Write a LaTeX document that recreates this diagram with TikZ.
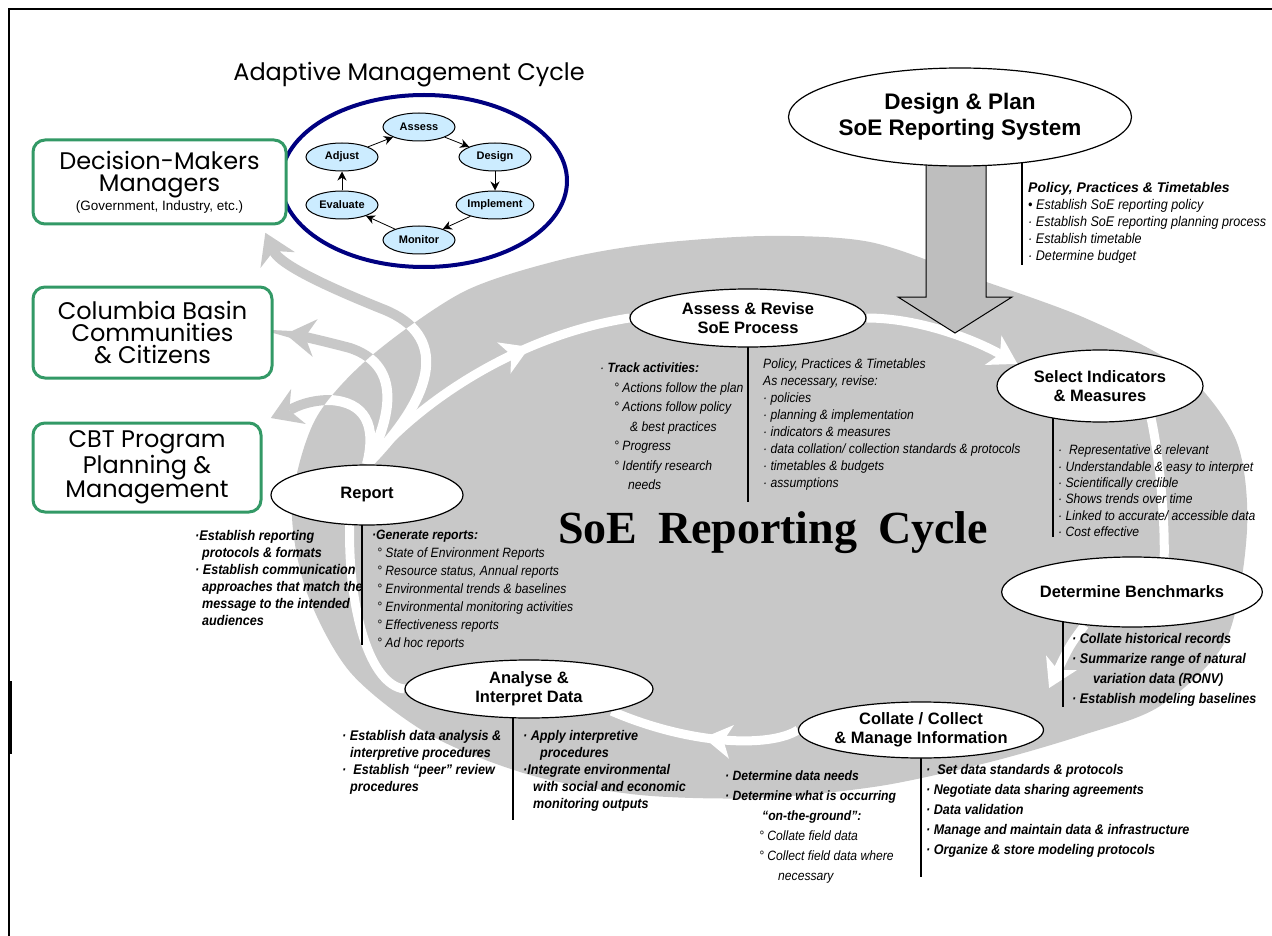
\documentclass[tikz,border=0pt]{standalone}
\usepackage{fontspec}
\setmainfont{Liberation Sans}
\newfontfamily\boxfont{Poppins}
\newfontfamily\narrowfont[FakeStretch=0.9]{Liberation Sans}
\newfontfamily\cyclefont{Liberation Serif}
\usetikzlibrary{arrows.meta,shapes.geometric,decorations.markings,backgrounds}

\definecolor{ringgray}{RGB}{200,200,200}
\definecolor{arrowgray}{RGB}{190,190,190}
\definecolor{amnavy}{RGB}{0,0,128}
\definecolor{boxgreen}{RGB}{51,153,102}
\definecolor{amblue}{RGB}{204,236,255}

\tikzset{stage/.style = {ellipse, draw, line width=1.2pt, fill=white, inner sep=0pt,
                         align=center, font=\bfseries\fontsize{16.5}{19}\selectfont},
         amstep/.style = {ellipse, draw, line width=1pt, fill=amblue, inner sep=0pt,
                          minimum width=72pt, minimum height=28pt,
                          font=\bfseries\fontsize{11}{13}\selectfont},
         amarrow/.style = {-{Stealth[length=9pt,width=9pt]}, line width=0.8pt},
         audience/.style = {draw=boxgreen, line width=3pt, rounded corners=12pt, fill=white,
                            inner sep=0pt, align=center, font=\boxfont\fontsize{24}{22}\selectfont},
         note/.style = {inner sep=0pt, anchor=north west, align=left,
                        font=\narrowfont\itshape\fontsize{13.5}{#1}\selectfont},
         note/.default = 17,
         boldnote/.style = {note=#1, font=\narrowfont\bfseries\itshape\fontsize{14}{#1}\selectfont},
         boldnote/.default = 17,
         rule/.style = {line width=1.4pt},
         cycleline/.style = {draw=white, line width=9pt},
         cyclehead/.style = {cycleline, postaction={decorate},
                             decoration={markings, mark=at position #1 with
                               {\arrow{Stealth[length=28pt,width=34pt,inset=8pt,line width=0pt]}}}},
         grayarr/.style = {draw=ringgray, line width=10pt,
                           -{Stealth[length=30pt,width=38pt,inset=10pt,line width=0pt]}}
        }

\begin{document}
\begin{tikzpicture}[x=1pt, y=-1pt]
  \useasboundingbox (0,0) rectangle (1272,936);

  % adaptive management cycle
  \node[font=\boxfont\fontsize{24}{24}\selectfont] (amtitle) at (409,75) {Adaptive Management Cycle};
  \node[draw=amnavy, line width=4pt, ellipse, minimum width=286pt, minimum height=172pt] (amring) at (424,181) {};
  \node[amstep] (amassess) at (419,127) {Assess};
  \node[amstep] (amdesign) at (495,157) {Design};
  \node[amstep] (amimplement) at (495,205) {Implement};
  \node[amstep] (ammonitor) at (419,240) {Monitor};
  \node[amstep] (amevaluate) at (342,205) {Evaluate};
  \node[amstep] (amadjust) at (342,157) {Adjust};
  \draw[amarrow] (amassess) -- (amdesign);
  \draw[amarrow] (amdesign) -- (amimplement);
  \draw[amarrow] (amimplement) -- (ammonitor);
  \draw[amarrow] (ammonitor) -- (amevaluate);
  \draw[amarrow] (amevaluate) -- (amadjust);
  \draw[amarrow] (amadjust) -- (amassess);

  % audiences
  \node[audience, minimum width=253pt, minimum height=84pt] (dm) at (159.5,182)
    {Decision-Makers\\Managers\\[-3pt]{\normalfont\fontsize{13.5}{15}\selectfont (Government, Industry, etc.)}};
  \node[audience, minimum width=239pt, minimum height=91pt] (cb) at (152.5,332.5)
    {Columbia Basin\\Communities\\\& Citizens};
  \node[audience, minimum width=228pt, minimum height=89pt] (cbt) at (147,467.5)
    {CBT Program\\Planning \&\\Management};

  % SoE stages
  \node[stage, minimum width=310pt, minimum height=98pt, font=\bfseries\fontsize{22.5}{26}\selectfont]
    (design) at (960,117) {Design \& Plan\\SoE Reporting System};
  \node[stage, minimum width=236pt, minimum height=58pt] (assess) at (748,318) {Assess \& Revise\\SoE Process};
  \node[stage, minimum width=206pt, minimum height=72pt] (select) at (1100,386) {Select Indicators\\\& Measures};
  \node[stage, minimum width=230pt, minimum height=70pt] (bench) at (1132,592) {Determine Benchmarks};
  \node[stage, minimum width=236pt, minimum height=56pt] (collate) at (921,730) {Collate / Collect\\\& Manage Information};
  \node[stage, minimum width=248pt, minimum height=58pt] (analyse) at (529,689) {Analyse \&\\Interpret Data};
  \node[stage, minimum width=192pt, minimum height=60pt] (report) at (367,495) {Report};

  \node[font=\cyclefont\bfseries\fontsize{46}{50}\selectfont] (cycletitle) at (773,533)
    {SoE\hspace{0.45em}Reporting\hspace{0.45em}Cycle};

  % notes
  \node[note=17, font=\narrowfont\itshape\fontsize{14}{17}\selectfont] (designnote) at (1028,182)
    {{\normalfont\bfseries\itshape\fontsize{14}{17}\selectfont Policy, Practices \& Timetables}\\
     • Establish SoE reporting policy\\
     · Establish SoE reporting planning process\\
     · Establish timetable\\
     · Determine budget};
  \node[note=19.5] (assessleft) at (600,363)
    {· \textbf{Track activities:}\\
     \hspace*{14pt}° Actions follow the plan\\
     \hspace*{14pt}° Actions follow policy\\
     \hspace*{30pt}\& best practices\\
     \hspace*{14pt}° Progress\\
     \hspace*{14pt}° Identify research\\
     \hspace*{28pt}needs};
  \node[note=17] (assessright) at (763,359)
    {Policy, Practices \& Timetables\\
     As necessary, revise:\\
     · policies\\
     · planning \& implementation\\
     · indicators \& measures\\
     · data collation/ collection standards \& protocols\\
     · timetables \& budgets\\
     · assumptions};
  \node[note=16.3] (selectnote) at (1058,445)
    {·\ \ Representative \& relevant\\
     · Understandable \& easy to interpret\\
     · Scientifically credible\\
     · Shows trends over time\\
     · Linked to accurate/ accessible data\\
     · Cost effective};
  \node[boldnote=20] (benchnote) at (1072,633)
    {· Collate historical records\\
     · Summarize range of natural\\
     \hspace*{21pt}variation data (RONV)\\
     · Establish modeling baselines};
  \node[boldnote=20] (collateright) at (926,764)
    {·\ \ Set data standards \& protocols\\
     · Negotiate data sharing agreements\\
     · Data validation\\
     · Manage and maintain data \& infrastructure\\
     · Organize \& store modeling protocols};
  \node[note=20] (collateleft) at (725,771)
    {\textbf{· Determine data needs}\\
     \textbf{· Determine what is occurring}\\
     \hspace*{37pt}\textbf{“on-the-ground”:}\\
     \hspace*{34pt}° Collate field data\\
     \hspace*{34pt}° Collect field data where\\
     \hspace*{53pt}necessary};
  \node[boldnote=17] (analyseleft) at (342,730)
    {· Establish data analysis \&\\
     \hspace*{8pt}interpretive procedures\\
     ·\ \ Establish “peer” review\\
     \hspace*{8pt}procedures};
  \node[boldnote=17] (analyseright) at (523,730)
    {· Apply interpretive\\
     \hspace*{17pt}procedures\\
     ·Integrate environmental\\
     \hspace*{10pt}with social and economic\\
     \hspace*{10pt}monitoring outputs};
  \node[boldnote=17] (reportleft) at (195,530)
    {·Establish reporting\\
     \hspace*{7pt}protocols \& formats\\
     · Establish communication\\
     \hspace*{7pt}approaches that match the\\
     \hspace*{7pt}message to the intended\\
     \hspace*{7pt}audiences};
  \node[note=18] (reportright) at (372,530)
    {\textbf{·Generate reports:}\\
     \hspace*{5pt}° State of Environment Reports\\
     \hspace*{5pt}° Resource status, Annual reports\\
     \hspace*{5pt}° Environmental trends \& baselines\\
     \hspace*{5pt}° Environmental monitoring activities\\
     \hspace*{5pt}° Effectiveness reports\\
     \hspace*{5pt}° Ad hoc reports};

  \begin{pgfonlayer}{background}
    % grey ring of the SoE cycle
    \path[save path=\ringpath] plot[smooth cycle] coordinates {(292,505) (315,420) (370,357) (463,292)
      (560,260) (650,244) (765,236) (870,242) (975,278) (1085,318) (1180,368) (1236,440) (1247,530)
      (1226,640) (1160,706) (1083,735) (990,762) (880,786) (760,798) (640,795) (530,775) (430,735)
      (350,672) (306,590)};
    \fill[ringgray, use path=\ringpath];

    % reporting out to the audiences
    \draw[grayarr, shorten >=8pt] (report.north) .. controls (440,390) and (445,335) .. (385,310)
      .. controls (330,288) and (280,265) .. (dm.-23);
    \draw[grayarr, shorten >=12pt] (report.north) .. controls (400,400) and (392,362) .. (350,348)
      .. controls (320,340) and (300,336) .. (cb.east);
    \draw[grayarr, shorten >=9pt] (report.north) .. controls (377,425) and (365,402) .. (330,400)
      .. controls (305,400) and (290,410) .. (cbt.north east);
    \begin{scope}
      \clip[use path=\ringpath];
      \draw[cycleline, line width=10pt] (report.north) .. controls (440,390) and (445,335) .. (385,310)
        .. controls (330,288) and (280,265) .. (dm.-23);
      \draw[cycleline, line width=10pt] (report.north) .. controls (400,400) and (392,362) .. (350,348)
        .. controls (320,340) and (300,336) .. (cb.east);
      \draw[cycleline, line width=10pt] (report.north) .. controls (377,425) and (365,402) .. (330,400)
        .. controls (305,400) and (290,410) .. (cbt.north east);
    \end{scope}

    % the cycle
    \draw[cyclehead=0.66] (report.north) .. controls (420,400) and (520,335) .. (assess.west);
    \draw[cycleline, -{Stealth[length=28pt,width=34pt,inset=8pt,line width=0pt]}]
      (assess.east) .. controls (920,318) and (975,340) .. (select.165);
    \draw[cycleline] (select.-32) .. controls (1160,460) and (1165,520) .. (bench.47);
    \draw[cycleline, -{Stealth[length=28pt,width=34pt,inset=8pt,line width=0pt]}]
      (bench.-145) .. controls (1070,645) .. ([xshift=5pt,yshift=42pt]collate.east);
    \draw[cyclehead=0.5] (collate.west) .. controls (770,748) and (690,745) .. (analyse.-15);
    \draw[cycleline] (analyse.west) .. controls (370,685) and (348,610) .. (report.-120);

    % design feeds the cycle
    \draw[line width=1pt, fill=arrowgray] (926,150) -- (926,297) -- (898,297) -- (955,333)
      -- (1012,297) -- (986,297) -- (986,150) -- cycle;

    % rules under the stages
    \draw[rule] (1022,150) -- (1022,265);
    \draw[rule] (assess.center) -- ++(0,184);
    \draw[rule] (1053,400) -- (1053,537);
    \draw[rule] (1063,600) -- (1063,707);
    \draw[rule] (collate.center) -- ++(0,147);
    \draw[rule] (513,700) -- (513,820);
    \draw[rule] (362,500) -- (362,645);
  \end{pgfonlayer}

  % frame
  \draw[line width=1.5pt] (1272,9) -- (9,9) -- (9,936);
  \draw[line width=3pt] (10.5,681) -- (10.5,754);
\end{tikzpicture}
\end{document}
